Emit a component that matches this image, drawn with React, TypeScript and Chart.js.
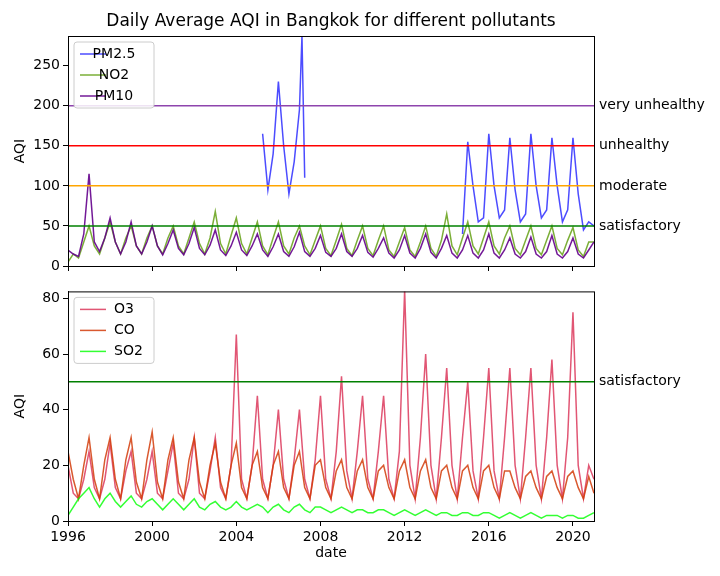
import { useEffect, useRef } from "react";
import { Chart, registerables } from "chart.js";

Chart.register(...registerables);

const START = 1996;
const STEP = 0.25;
const xTicks = [1996, 2000, 2004, 2008, 2012, 2016, 2020];
const topTicks = [0, 50, 100, 150, 200, 250];
const bottomTicks = [0, 20, 40, 60, 80];

// quarterly readings (Jan, Apr, Jul, Oct) from 1996 to 2021
const pm10 = [
  20, 15, 12, 40, 115, 30, 18, 35, 60, 30, 15, 30, 55, 25, 15, 30, 50, 25, 14, 28,
  45, 22, 14, 28, 48, 22, 14, 26, 45, 20, 13, 25, 42, 20, 13, 25, 40, 20, 12, 24,
  40, 18, 12, 24, 42, 18, 12, 22, 38, 17, 12, 22, 40, 18, 12, 22, 38, 17, 11, 22,
  35, 16, 10, 20, 38, 16, 10, 22, 40, 17, 10, 22, 38, 16, 10, 20, 38, 16, 10, 20,
  40, 16, 10, 20, 35, 15, 10, 18, 36, 15, 10, 18, 38, 15, 10, 18, 35, 15, 10, 20, 30,
];
const no2 = [
  5, 15, 10, 30, 50, 25, 15, 35, 55, 30, 15, 35, 50, 25, 15, 35, 50, 25, 15, 35,
  50, 25, 15, 35, 55, 28, 15, 35, 68, 28, 15, 38, 60, 28, 15, 35, 55, 25, 14, 35,
  55, 25, 15, 35, 50, 25, 14, 32, 50, 22, 13, 32, 52, 22, 13, 32, 50, 22, 13, 32,
  50, 20, 12, 30, 48, 20, 12, 30, 50, 22, 12, 32, 65, 25, 14, 35, 55, 25, 15, 35,
  55, 25, 15, 35, 50, 22, 14, 32, 50, 22, 14, 32, 50, 22, 14, 32, 48, 20, 12, 30, 30,
];
const pm25Years = [
  2005.25, 2005.5, 2005.75, 2006, 2006.25, 2006.5, 2006.75, 2007, 2007.12, 2007.25,
  null, 2014.75, 2015, 2015.25, 2015.5, 2015.75, 2016, 2016.25, 2016.5, 2016.75,
  2017, 2017.25, 2017.5, 2017.75, 2018, 2018.25, 2018.5, 2018.75, 2019, 2019.25,
  2019.5, 2019.75, 2020, 2020.25, 2020.5, 2020.75, 2021,
];
const pm25 = [
  165, 95, 140, 230, 150, 90, 130, 195, 287, 110,
  null, 40, 155, 100, 55, 60, 165, 100, 60, 70,
  160, 95, 55, 65, 165, 100, 60, 70, 160, 100,
  55, 70, 160, 90, 45, 55, 50,
];
const o3 = [
  20, 10, 8, 15, 25, 12, 8, 15, 28, 12, 8, 18, 25, 10, 8, 15, 25, 10, 8, 18,
  28, 10, 8, 15, 30, 10, 8, 18, 30, 12, 8, 20, 67, 15, 8, 20, 45, 15, 8, 20,
  40, 15, 8, 22, 40, 15, 8, 22, 45, 15, 8, 25, 52, 18, 8, 25, 45, 15, 8, 25,
  45, 15, 8, 25, 83, 20, 8, 30, 60, 20, 8, 30, 55, 20, 8, 30, 50, 18, 8, 30,
  55, 18, 8, 30, 55, 20, 8, 30, 55, 20, 8, 30, 58, 20, 8, 30, 75, 20, 8, 20, 15,
];
const co = [
  25, 15, 8, 20, 30, 15, 8, 22, 30, 15, 8, 22, 30, 14, 8, 22, 32, 14, 8, 22,
  30, 14, 8, 22, 30, 14, 8, 20, 28, 14, 8, 20, 28, 12, 8, 20, 25, 12, 8, 20,
  25, 12, 8, 20, 25, 12, 8, 20, 22, 12, 8, 18, 22, 12, 8, 18, 22, 12, 8, 18,
  20, 12, 8, 18, 22, 12, 8, 18, 22, 12, 8, 18, 20, 12, 8, 18, 20, 12, 8, 18,
  20, 12, 8, 18, 18, 12, 8, 16, 18, 12, 8, 16, 18, 12, 8, 16, 18, 12, 8, 16, 10,
];
const so2 = [
  2, 5, 8, 10, 12, 8, 5, 8, 10, 7, 5, 7, 9, 6, 5, 7, 8, 6, 4, 6,
  8, 6, 4, 6, 8, 5, 4, 6, 7, 5, 4, 5, 7, 5, 4, 5, 6, 5, 3, 5,
  6, 4, 3, 5, 6, 4, 3, 5, 5, 4, 3, 4, 5, 4, 3, 4, 4, 3, 3, 4,
  4, 3, 2, 3, 4, 3, 2, 3, 4, 3, 2, 3, 3, 2, 2, 3, 3, 2, 2, 3,
  3, 2, 1, 2, 3, 2, 1, 2, 3, 2, 1, 2, 2, 2, 1, 2, 2, 1, 1, 2, 3,
];

const topLevels = [200, 150, 100, 50];
const topLevelLabels = ["very unhealthy", "unhealthy", "moderate", "satisfactory"];
const topLevelColors = ["#8e44ad", "#ff0000", "#ffa500", "#008000"];
const bottomLevels = [50];
const bottomLevelLabels = ["satisfactory"];

const FONT = "DejaVu Sans";

const series = (arr: number[]) => arr.map((v, i) => ({ x: START + i * STEP, y: v }));
const hline = (v: number) => [{ x: 1996, y: v }, { x: 2021, y: v }];

function makePlugin(labels: string[], levels: number[], legend: { label: string; color: string }[], title?: string) {
  return {
    id: "extras",
    afterDraw(chart: any) {
      const { ctx, chartArea, scales } = chart;
      ctx.save();
      ctx.strokeStyle = "#000";
      ctx.lineWidth = 1;
      ctx.strokeRect(chartArea.left + 0.5, chartArea.top + 0.5, chartArea.width, chartArea.height);
      ctx.fillStyle = "#000";
      ctx.font = `14px ${FONT}`;
      ctx.textBaseline = "middle";
      ctx.textAlign = "left";
      levels.forEach((v, i) => ctx.fillText(labels[i], chartArea.right + 5, scales.y.getPixelForValue(v)));
      if (title) {
        ctx.font = `17px ${FONT}`;
        ctx.textAlign = "center";
        ctx.fillText(title, (chartArea.left + chartArea.right) / 2, 22);
      }
      const bx = chartArea.left + 6, by = chartArea.top + 6;
      ctx.fillStyle = "rgba(255,255,255,0.85)";
      ctx.strokeStyle = "#ccc";
      ctx.beginPath();
      ctx.roundRect(bx, by, 80, 66, 3);
      ctx.fill();
      ctx.stroke();
      ctx.font = `14px ${FONT}`;
      legend.forEach((l, i) => {
        const y = by + 12 + i * 21;
        ctx.strokeStyle = l.color;
        ctx.lineWidth = 1.5;
        ctx.beginPath();
        ctx.moveTo(bx + 6, y);
        ctx.lineTo(bx + 32, y);
        ctx.stroke();
        ctx.fillStyle = "#000";
        ctx.fillText(l.label, bx + 40, y);
      });
      ctx.restore();
    },
  };
}

function baseOptions(yMax: number, yTicks: number[], padTop: number, padBottom: number, xHeight: number, showX: boolean): any {
  return {
    animation: false,
    responsive: false,
    layout: { padding: { left: 10, right: 126, top: padTop, bottom: padBottom } },
    plugins: { legend: { display: false }, tooltip: { enabled: false } },
    elements: { point: { radius: 0 }, line: { tension: 0 } },
    scales: {
      x: {
        type: "linear",
        min: 1996,
        max: 2021,
        afterBuildTicks: (s: any) => { s.ticks = xTicks.map((v) => ({ value: v })); },
        ticks: { display: showX, color: "#000", font: { family: FONT, size: 14 }, maxRotation: 0, callback: (v: any) => String(v) },
        grid: { drawOnChartArea: false, tickLength: 5, color: "#000" },
        border: { color: "#000" },
        title: { display: showX, text: "date", color: "#000", font: { family: FONT, size: 14 }, padding: 0 },
        afterFit: (s: any) => { s.height = xHeight; },
      },
      y: {
        min: 0,
        max: yMax,
        afterBuildTicks: (s: any) => { s.ticks = yTicks.map((v) => ({ value: v })); },
        ticks: { color: "#000", font: { family: FONT, size: 14 } },
        grid: { drawOnChartArea: false, tickLength: 5, color: "#000" },
        border: { color: "#000" },
        title: { display: true, text: "AQI", color: "#000", font: { family: FONT, size: 14 }, padding: 2 },
        afterFit: (s: any) => { s.width = 58; },
      },
    },
  };
}

export default function App() {
  const topRef = useRef<HTMLCanvasElement>(null);
  const bottomRef = useRef<HTMLCanvasElement>(null);

  useEffect(() => {
    document.body.style.margin = "0";
    if (!topRef.current || !bottomRef.current) return;

    const pm25Points = pm25Years.map((x, i) => ({ x: x ?? 2010, y: x === null ? null : pm25[i] }));

    const top = new Chart(topRef.current, {
      type: "line",
      data: {
        datasets: [
          ...topLevels.map((v, i) => ({ data: hline(v), borderColor: topLevelColors[i], borderWidth: 1.5, order: 0 })),
          { data: pm25Points as any, borderColor: "rgba(0,0,255,0.7)", borderWidth: 1.5, spanGaps: false, order: 1 },
          { data: series(pm10), borderColor: "rgba(100,0,140,0.9)", borderWidth: 1.5, order: 2 },
          { data: series(no2), borderColor: "rgba(100,160,20,0.85)", borderWidth: 1.5, order: 3 },
        ],
      },
      options: baseOptions(287, topTicks, 36, 0, 14, false),
      plugins: [
        makePlugin(topLevelLabels, topLevels, [
          { label: "PM2.5", color: "rgba(0,0,255,0.7)" },
          { label: "NO2", color: "rgba(100,160,20,0.85)" },
          { label: "PM10", color: "rgba(100,0,140,0.9)" },
        ], "Daily Average AQI in Bangkok for different pollutants"),
      ],
    } as any);

    const bottom = new Chart(bottomRef.current, {
      type: "line",
      data: {
        datasets: [
          ...bottomLevels.map((v) => ({ data: hline(v), borderColor: "#008000", borderWidth: 1.5, order: 0 })),
          { data: series(so2), borderColor: "rgba(0,255,0,0.8)", borderWidth: 1.5, order: 1 },
          { data: series(co), borderColor: "rgba(210,60,10,0.85)", borderWidth: 1.5, order: 2 },
          { data: series(o3), borderColor: "rgba(215,30,70,0.75)", borderWidth: 1.5, order: 3 },
        ],
      },
      options: baseOptions(82.5, bottomTicks, 10, 14, 41, true),
      plugins: [
        makePlugin(bottomLevelLabels, bottomLevels, [
          { label: "O3", color: "rgba(215,30,70,0.75)" },
          { label: "CO", color: "rgba(210,60,10,0.85)" },
          { label: "SO2", color: "rgba(0,255,0,0.8)" },
        ]),
      ],
    } as any);

    return () => {
      top.destroy();
      bottom.destroy();
    };
  }, []);

  return (
    <div style={{ position: "relative", width: 720, height: 576, background: "#fff" }}>
      <canvas ref={topRef} width={720} height={280} style={{ position: "absolute", left: 0, top: 0, width: 720, height: 280 }} />
      <canvas ref={bottomRef} width={720} height={296} style={{ position: "absolute", left: 0, top: 280, width: 720, height: 296 }} />
    </div>
  );
}
